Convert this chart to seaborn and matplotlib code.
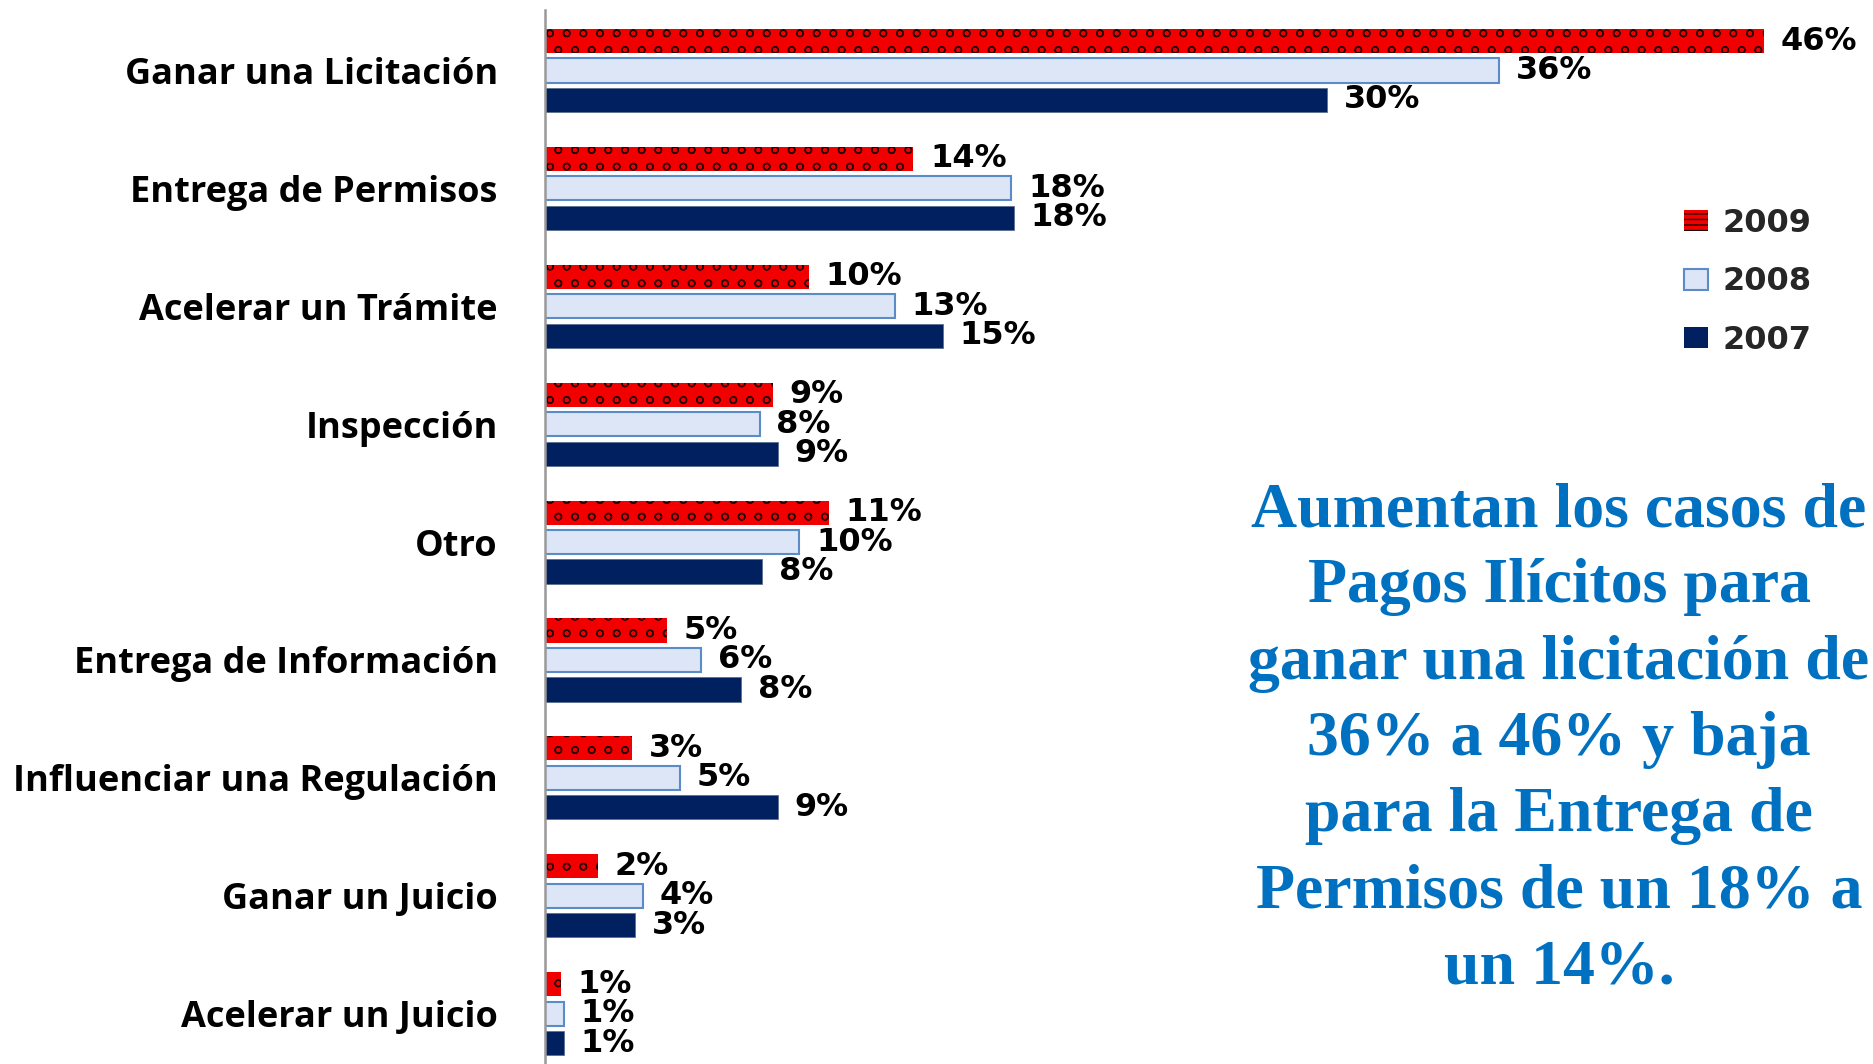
import pandas as pd
import matplotlib.pyplot as plt
import seaborn as sns


categories = [
    "Ganar una Licitación",
    "Entrega de Permisos",
    "Acelerar un Trámite",
    "Inspección",
    "Otro",
    "Entrega de Información",
    "Influenciar una Regulación",
    "Ganar un Juicio",
    "Acelerar un Juicio",
]
years = ["2009", "2008", "2007"]

# bar lengths (percent)
values_2009 = [46, 13.9, 9.95, 8.6, 10.7, 4.6, 3.3, 2.0, 0.6]
values_2008 = [36, 17.6, 13.2, 8.1, 9.6, 5.9, 5.1, 3.7, 0.7]
values_2007 = [29.5, 17.7, 15.0, 8.8, 8.2, 7.4, 8.8, 3.4, 0.7]

# printed labels
labels_2009 = ["46%", "14%", "10%", "9%", "11%", "5%", "3%", "2%", "1%"]
labels_2008 = ["36%", "18%", "13%", "8%", "10%", "6%", "5%", "4%", "1%"]
labels_2007 = ["30%", "18%", "15%", "9%", "8%", "8%", "9%", "3%", "1%"]

note = ("Aumentan los casos de\nPagos Ilícitos para\nganar una licitación de\n"
        "36% a 46% y baja\npara la Entrega de\nPermisos de un 18% a\nun 14%.")

colors = {"2009": "#f20000", "2008": "#dce6f7", "2007": "#00205f"}


def build_frame():
    rows = []
    for year, vals in zip(years, [values_2009, values_2008, values_2007]):
        for cat, v in zip(categories, vals):
            rows.append({"cat": cat, "year": year, "val": v})
    return pd.DataFrame(rows)


def plot_graphs(data):
    sns.set_style("white")
    fig = plt.figure(figsize=(18.73, 10.64), dpi=100)
    ax = fig.add_axes([545 / 1873, 0, 1 - 545 / 1873, 1054 / 1064])

    sns.barplot(
        data, y="cat", x="val", hue="year", orient="h",
        hue_order=years, order=categories, palette=colors,
        width=0.75, gap=0.18, saturation=1, legend=False, ax=ax,
    )

    # 2009: patterned red, 2008: light with blue outline, 2007: navy
    for bar in ax.containers[0]:
        bar.set_hatch("o")
        bar.set_edgecolor("#300000")
        bar.set_linewidth(0)
    for bar in ax.containers[1]:
        bar.set_edgecolor("#5b8cc8")
        bar.set_linewidth(1.5)
    for bar in ax.containers[2]:
        bar.set_edgecolor("#5b7090")
        bar.set_linewidth(0.6)

    for cont, labs in zip(ax.containers, [labels_2009, labels_2008, labels_2007]):
        ax.bar_label(cont, labels=labs, padding=12, fontsize=23,
                     fontweight="bold", family="DejaVu Sans", color="black")

    ax.set_xlim(0, 1328 / 26.5)
    ax.set_ylim(8.427, -0.513)
    ax.set_xlabel("")
    ax.set_ylabel("")
    ax.set_xticks([])
    ax.tick_params(axis="y", length=0, pad=34)
    for lab in ax.get_yticklabels():
        lab.set_fontsize(26)
        lab.set_fontweight("bold")
        lab.set_family("Open Sans")
        lab.set_color("black")
    for side in ["top", "right", "bottom"]:
        ax.spines[side].set_visible(False)
    ax.spines["left"].set_color("#999999")
    ax.spines["left"].set_linewidth(1.8)

    handles = [
        plt.Rectangle((0, 0), 1, 1, facecolor=colors["2009"], hatch="---",
                      edgecolor="#200000", linewidth=0),
        plt.Rectangle((0, 0), 1, 1, facecolor=colors["2008"],
                      edgecolor="#5b8cc8", linewidth=1.5),
        plt.Rectangle((0, 0), 1, 1, facecolor=colors["2007"], linewidth=0),
    ]
    fig.legend(handles, years, loc="upper left",
               bbox_to_anchor=(1684 / 1873, 1 - 208 / 1064),
               frameon=False, borderpad=0, borderaxespad=0,
               handlelength=0.75, handleheight=0.65, handletextpad=0.45,
               labelspacing=0.86,
               prop={"family": "DejaVu Sans", "weight": "bold", "size": 23})

    fig.text(1559 / 1873, 1 - 740 / 1064, note, ha="center", va="center",
             family="Liberation Serif", fontweight="bold", fontsize=46,
             color="#0070c0", linespacing=1.415)

    fig.savefig("out.png", dpi=100)
    plt.close(fig)


def main():
    data = build_frame()
    plot_graphs(data)


if __name__ == "__main__":
    main()
